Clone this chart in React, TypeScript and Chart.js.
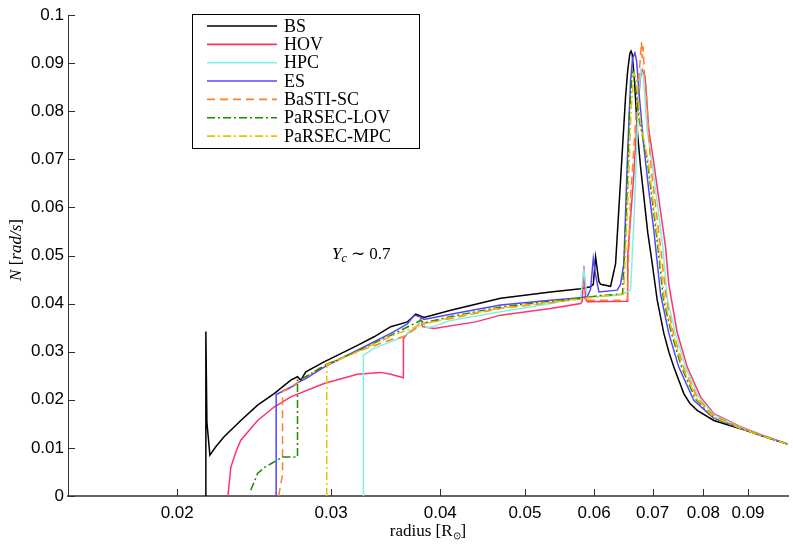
import React, { useEffect, useRef } from 'react';
import { Chart, registerables } from 'chart.js';

Chart.register(...registerables);

// ---- tick labels ----
const xTicks = [0.02, 0.03, 0.04, 0.05, 0.06, 0.07, 0.08, 0.09];
const yTicks = [0, 0.01, 0.02, 0.03, 0.04, 0.05, 0.06, 0.07, 0.08, 0.09, 0.1];

// ---- series: radius [Rsun] and N [rad/s] ----
const bsR = [0.02157, 0.02157, 0.02163, 0.0218, 0.02215, 0.02263, 0.02365, 0.02472, 0.02582, 0.02698, 0.02746, 0.0277, 0.02807, 0.02945, 0.03078, 0.03216, 0.0336, 0.03511, 0.03669, 0.0375, 0.03832, 0.04112, 0.0469, 0.0535, 0.0579, 0.05944, 0.05987, 0.06023, 0.06076, 0.06103, 0.06266, 0.06349, 0.06433, 0.06518, 0.06555, 0.06592, 0.06613, 0.06634, 0.06675, 0.06722, 0.0678, 0.0684, 0.0691, 0.06993, 0.07085, 0.0721, 0.0731, 0.07402, 0.07599, 0.0772, 0.07872, 0.08224, 0.08823, 0.093, 0.0998];
const bsN = [0, 0.0342, 0.0153, 0.0085, 0.0103, 0.0123, 0.0157, 0.0189, 0.0213, 0.0241, 0.0248, 0.0241, 0.0258, 0.0279, 0.0296, 0.0313, 0.0331, 0.0352, 0.0362, 0.0378, 0.0371, 0.0386, 0.0411, 0.0424, 0.0431, 0.0435, 0.044, 0.0497, 0.0446, 0.044, 0.0436, 0.0483, 0.0657, 0.083, 0.0885, 0.092, 0.0925, 0.0918, 0.086, 0.0761, 0.0685, 0.0622, 0.0548, 0.0483, 0.0407, 0.0338, 0.0298, 0.0268, 0.0213, 0.0193, 0.0178, 0.0157, 0.014, 0.0126, 0.0108];

const hovR = [0.02286, 0.02304, 0.02335, 0.02365, 0.02472, 0.02582, 0.02698, 0.02945, 0.03216, 0.03419, 0.03511, 0.0363, 0.0363, 0.03669, 0.03733, 0.0378, 0.03799, 0.0382, 0.03935, 0.04392, 0.0469, 0.0535, 0.0579, 0.05815, 0.0584, 0.05865, 0.05893, 0.06547, 0.06555, 0.06657, 0.06727, 0.06781, 0.06811, 0.0686, 0.0693, 0.07022, 0.07242, 0.07305, 0.07468, 0.07668, 0.07941, 0.08224, 0.08823, 0.093, 0.0998];
const hovN = [0, 0.006, 0.0092, 0.0116, 0.0157, 0.0185, 0.0206, 0.0234, 0.0253, 0.0257, 0.0253, 0.0246, 0.0327, 0.0338, 0.0348, 0.0358, 0.0369, 0.0352, 0.0348, 0.0362, 0.0376, 0.039, 0.04, 0.0405, 0.0478, 0.041, 0.0404, 0.0405, 0.05, 0.066, 0.08, 0.0872, 0.0886, 0.0872, 0.0761, 0.0692, 0.0518, 0.044, 0.034, 0.0268, 0.0206, 0.0171, 0.0144, 0.0128, 0.0108];

const hpcR = [0.03267, 0.03267, 0.0336, 0.0363, 0.03733, 0.038, 0.0386, 0.03935, 0.04112, 0.0469, 0.0535, 0.0579, 0.0584, 0.0589, 0.06076, 0.06433, 0.06605, 0.06674, 0.06736, 0.06781, 0.0683, 0.069, 0.0699, 0.0719, 0.0728, 0.07435, 0.07633, 0.079, 0.0822, 0.0882, 0.093, 0.0998];
const hpcN = [0, 0.0293, 0.0307, 0.0331, 0.0348, 0.0365, 0.035, 0.0353, 0.0365, 0.0383, 0.04, 0.0413, 0.047, 0.0415, 0.0414, 0.0418, 0.0428, 0.06, 0.08, 0.0886, 0.0875, 0.0761, 0.0692, 0.0518, 0.0407, 0.0338, 0.0268, 0.0206, 0.0169, 0.0143, 0.0127, 0.0108];

const esR = [0.02596, 0.02596, 0.02698, 0.02746, 0.0277, 0.02807, 0.02945, 0.03216, 0.03511, 0.03669, 0.03733, 0.03799, 0.03832, 0.04112, 0.0469, 0.0535, 0.0579, 0.05893, 0.05944, 0.05987, 0.06023, 0.06076, 0.06377, 0.06433, 0.06489, 0.06547, 0.06605, 0.0664, 0.0668, 0.0671, 0.0676, 0.0684, 0.0693, 0.07022, 0.07147, 0.07305, 0.07499, 0.07802, 0.0822, 0.0882, 0.093, 0.0998];
const esN = [0, 0.0211, 0.0226, 0.0235, 0.0239, 0.0244, 0.0268, 0.0303, 0.0338, 0.0358, 0.0376, 0.0372, 0.0367, 0.0378, 0.0397, 0.0407, 0.0412, 0.0414, 0.043, 0.0494, 0.046, 0.0424, 0.0428, 0.044, 0.0483, 0.0692, 0.0865, 0.091, 0.0921, 0.0905, 0.083, 0.0726, 0.0635, 0.0553, 0.042, 0.0338, 0.0268, 0.0199, 0.0162, 0.0141, 0.0126, 0.0108];

const scR = [0.02613, 0.0264, 0.0264, 0.02698, 0.0277, 0.02945, 0.03216, 0.03511, 0.0363, 0.03832, 0.04112, 0.0469, 0.0535, 0.0579, 0.05893, 0.06547, 0.06605, 0.06722, 0.0677, 0.06797, 0.06811, 0.06825, 0.0685, 0.0688, 0.06961, 0.07147, 0.07261, 0.07396, 0.07593, 0.0788, 0.0822, 0.0882, 0.093, 0.0998];
const scN = [0, 0.0045, 0.0219, 0.0223, 0.0241, 0.0272, 0.03, 0.0325, 0.0331, 0.0359, 0.0369, 0.039, 0.0402, 0.041, 0.0407, 0.0407, 0.0622, 0.083, 0.09, 0.0944, 0.091, 0.0935, 0.088, 0.085, 0.0692, 0.0518, 0.0407, 0.0338, 0.0268, 0.0203, 0.0167, 0.0142, 0.0127, 0.0108];

const lovR = [0.02428, 0.02472, 0.0252, 0.0256, 0.0264, 0.02746, 0.02746, 0.02807, 0.02945, 0.03216, 0.03511, 0.03799, 0.03832, 0.04112, 0.0469, 0.0535, 0.0579, 0.061, 0.06467, 0.06535, 0.06587, 0.06634, 0.0667, 0.0676, 0.069, 0.0708, 0.07204, 0.07357, 0.07553, 0.0784, 0.0822, 0.0882, 0.093, 0.0998];
const lovN = [0.0012, 0.0047, 0.006, 0.0067, 0.0081, 0.0081, 0.0241, 0.0248, 0.027, 0.0302, 0.0334, 0.0365, 0.036, 0.0373, 0.0393, 0.0405, 0.0411, 0.0417, 0.042, 0.06, 0.08, 0.0882, 0.0875, 0.078, 0.07, 0.0535, 0.0407, 0.0338, 0.0268, 0.0201, 0.0163, 0.0141, 0.0126, 0.0108];

const mpcR = [0.02966, 0.02966, 0.03216, 0.03511, 0.03832, 0.04112, 0.0469, 0.0535, 0.0579, 0.061, 0.06484, 0.06553, 0.06613, 0.06662, 0.067, 0.0678, 0.0692, 0.071, 0.07223, 0.0738, 0.07575, 0.0786, 0.0822, 0.0882, 0.093, 0.0998];
const mpcN = [0, 0.0272, 0.03, 0.0332, 0.0358, 0.0371, 0.0391, 0.0403, 0.041, 0.0415, 0.042, 0.06, 0.08, 0.0879, 0.087, 0.0775, 0.0695, 0.053, 0.0407, 0.0338, 0.0268, 0.0202, 0.0164, 0.0141, 0.0126, 0.0108];

const labels = ['BS', 'HOV', 'HPC', 'ES', 'BaSTI-SC', 'PaRSEC-LOV', 'PaRSEC-MPC'];
const radii = [bsR, hovR, hpcR, esR, scR, lovR, mpcR];
const values = [bsN, hovN, hpcN, esN, scN, lovN, mpcN];
const colors = ['#000000', '#ff3366', '#80f2e4', '#5544ff', '#ff7f2a', '#1f8a00', '#e6c300'];
const dashes: number[][] = [[], [], [], [], [8, 5], [8, 3, 2, 3], [8, 3, 2, 3]];

const SANS = '"Liberation Sans", Arial, sans-serif';
const SERIF = '"Liberation Serif", "Times New Roman", serif';

function drawSegments(ctx: CanvasRenderingContext2D, segs: { t: string; f: string; dy?: number }[], x: number, y: number, align: 'left' | 'center') {
  let total = 0;
  for (const s of segs) { ctx.font = s.f; total += ctx.measureText(s.t).width; }
  let cx = align === 'center' ? x - total / 2 : x;
  ctx.textAlign = 'left';
  ctx.textBaseline = 'alphabetic';
  for (const s of segs) {
    ctx.font = s.f;
    ctx.fillText(s.t, cx, y + (s.dy || 0));
    cx += ctx.measureText(s.t).width;
  }
}

const decorPlugin = {
  id: 'decor',
  afterDraw(chart: any) {
    const ctx: CanvasRenderingContext2D = chart.ctx;
    const { left, bottom } = chart.chartArea;
    const xs = chart.scales.x;
    const ys = chart.scales.y;
    ctx.save();
    // inward tick marks
    ctx.strokeStyle = '#333';
    ctx.lineWidth = 1;
    ctx.setLineDash([]);
    for (const v of xTicks) {
      const p = Math.round(xs.getPixelForValue(v)) + 0.5;
      ctx.beginPath(); ctx.moveTo(p, bottom); ctx.lineTo(p, bottom - 7); ctx.stroke();
    }
    for (const v of yTicks) {
      const p = Math.round(ys.getPixelForValue(v)) + 0.5;
      ctx.beginPath(); ctx.moveTo(left, p); ctx.lineTo(left + 7, p); ctx.stroke();
    }
    // legend
    ctx.fillStyle = '#ffffff';
    ctx.fillRect(192.5, 14.5, 227, 134);
    ctx.strokeStyle = '#000';
    ctx.lineWidth = 1;
    ctx.strokeRect(192.5, 14.5, 227, 134);
    chart.data.datasets.forEach((ds: any, i: number) => {
      const y = 26 + i * 18.35;
      ctx.setLineDash(ds.borderDash || []);
      ctx.strokeStyle = ds.borderColor;
      ctx.lineWidth = 1.6;
      ctx.beginPath(); ctx.moveTo(207, y); ctx.lineTo(277, y); ctx.stroke();
      ctx.setLineDash([]);
      ctx.fillStyle = '#000';
      ctx.font = `18px ${SERIF}`;
      ctx.textAlign = 'left';
      ctx.textBaseline = 'middle';
      ctx.fillText(ds.label, 284, y + 1);
    });
    ctx.fillStyle = '#000';
    // annotation Y_c ~ 0.7
    drawSegments(ctx, [
      { t: 'Y', f: `italic 17px ${SERIF}` },
      { t: 'c', f: `italic 12px ${SERIF}`, dy: 3 },
      { t: ' \u223C 0.7', f: `17px ${SERIF}` },
    ], 332, 259, 'left');
    // x title
    drawSegments(ctx, [
      { t: 'radius [R', f: `17px ${SERIF}` },
      { t: '\u2299', f: `10px ${SERIF}`, dy: 3 },
      { t: ']', f: `17px ${SERIF}` },
    ], 428, 536, 'center');
    // y title
    ctx.translate(21, 250);
    ctx.rotate(-Math.PI / 2);
    drawSegments(ctx, [
      { t: 'N', f: `italic 17px ${SERIF}` },
      { t: ' [', f: `17px ${SERIF}` },
      { t: 'rad/s', f: `italic 17px ${SERIF}` },
      { t: ']', f: `17px ${SERIF}` },
    ], 0, 0, 'center');
    ctx.restore();
  },
};

export default function App() {
  const ref = useRef<HTMLCanvasElement | null>(null);
  useEffect(() => {
    if (!ref.current) return;
    const datasets = labels.map((label, i) => ({
      label,
      data: radii[i].map((r, k) => ({ x: r, y: values[i][k] })),
      borderColor: colors[i],
      backgroundColor: colors[i],
      borderDash: dashes[i],
      borderWidth: 1.5,
      showLine: true,
      pointRadius: 0,
      tension: 0,
      fill: false,
      order: labels.length - i,
    }));
    const chart = new Chart(ref.current, {
      type: 'scatter',
      data: { datasets },
      options: {
        animation: false,
        responsive: false,
        layout: { padding: { left: 0, top: 15, right: 5, bottom: 0 } },
        plugins: { legend: { display: false }, tooltip: { enabled: false } },
        scales: {
          x: {
            type: 'logarithmic',
            min: 0.015,
            max: 0.1,
            grid: { display: false, drawTicks: false },
            border: { display: true, color: '#666', width: 2 },
            afterBuildTicks: (s: any) => { s.ticks = xTicks.map((v) => ({ value: v })); },
            afterFit: (s: any) => { s.height = 49; },
            ticks: {
              autoSkip: false,
              maxRotation: 0,
              padding: 7,
              color: '#000',
              font: { family: SANS, size: 17 },
              callback: (v: any) => String(v),
            },
          },
          y: {
            type: 'linear',
            min: 0,
            max: 0.1,
            grid: { display: false, drawTicks: false },
            border: { display: true, color: '#333', width: 1 },
            afterBuildTicks: (s: any) => { s.ticks = yTicks.map((v) => ({ value: v })); },
            afterFit: (s: any) => { s.width = 68; },
            ticks: {
              padding: 4,
              color: '#000',
              font: { family: SANS, size: 17 },
              callback: (v: any) => String(Math.round(Number(v) * 100) / 100),
            },
          },
        },
      } as any,
      plugins: [decorPlugin],
    });
    return () => chart.destroy();
  }, []);
  return (
    <div style={{ position: 'absolute', left: 0, top: 0, width: 793, height: 545, background: '#fff' }}>
      <canvas ref={ref} width={793} height={545} style={{ display: 'block' }} />
    </div>
  );
}
